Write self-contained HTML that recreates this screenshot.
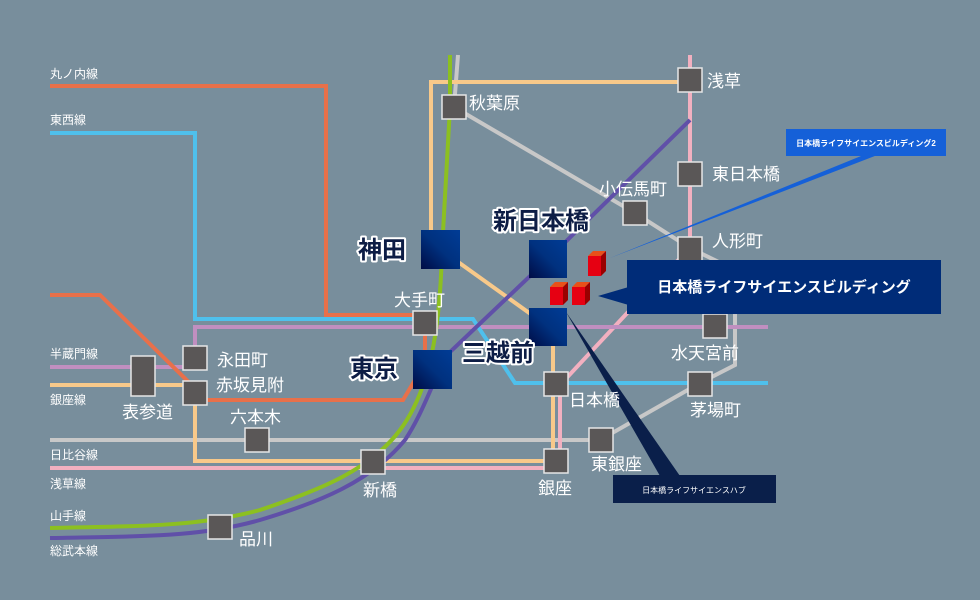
<!DOCTYPE html>
<html><head><meta charset="utf-8"><style>
html,body{margin:0;padding:0;background:#788e9c;}
svg{display:block;font-family:"Liberation Sans","Noto Sans CJK JP",sans-serif;}
.st{fill:#5a5757;stroke:#e6e6e6;stroke-width:1.5}
.lb{fill:#fff;font-size:17px}
.ln{fill:#fff;font-size:12px}
.big{fill:#0d1d45;font-size:24px;font-weight:bold;stroke:#fff;stroke-width:4;paint-order:stroke;stroke-linejoin:round}
</style></head><body>
<svg width="980" height="600" viewBox="0 0 980 600">
<defs>
<linearGradient id="bg" x1="1" y1="0" x2="0" y2="1"><stop offset="0" stop-color="#003c96"/><stop offset="0.5" stop-color="#00317f"/><stop offset="1" stop-color="#000c45"/></linearGradient>
</defs>
<rect width="980" height="600" fill="#788e9c"/>
<g fill="none" stroke-width="4" stroke-linejoin="miter">
<polyline stroke="#c8c8c8" points="50,440 600,440 700,383 735,365 735,270 690,248 635,213 454,107 458,55"/>
<polyline stroke="#f2b0c0" points="50,468 560,468 560,385 630,310 690,248 690,55"/>
<polyline stroke="#c08fc0" points="50,367 195,367 195,327 768,327"/>
<polyline stroke="#4fc0ec" points="50,133 195,133 195,319 473,319 515,383 768,383"/>
<polyline stroke="#e8704a" points="50,86 326,86 326,315 425,315 425,350"/>
<polyline stroke="#e8704a" points="50,295 100,295 207,400 403,400 415,380"/>
<polyline stroke="#f8c98a" points="50,385 195,385 195,461 553,461 553,330 440,249 431,249 431,82 690,82"/>
<path stroke="#8cc020" d="M50,528 C150,526 200,526 260,510 C320,490 370,470 400,430 C430,390 440,330 442,250 L450,107 L450,55"/>
<path stroke="#6050a8" d="M50,538 C150,536 200,537 260,520 C320,502 370,482 405,440 C425,410 432,380 450,352 L548,259 L690,120"/>
</g>
<polygon points="610,258 866,154 880,154" fill="#1560d8"/>
<polygon points="566,312 680,476 660,476" fill="#0a1f4a"/>
<polygon points="598,296 632,286 632,306" fill="#002c78"/>
<g class="st">
<rect x="442" y="95" width="24" height="24"/>
<rect x="678" y="68" width="24" height="24"/>
<rect x="678" y="162" width="24" height="24"/>
<rect x="623" y="201" width="24" height="24"/>
<rect x="678" y="237" width="24" height="24"/>
<rect x="413" y="311" width="24" height="24"/>
<rect x="183" y="346" width="24" height="24"/>
<rect x="183" y="381" width="24" height="24"/>
<rect x="131" y="356" width="24" height="40"/>
<rect x="245" y="428" width="24" height="24"/>
<rect x="361" y="450" width="24" height="24"/>
<rect x="208" y="515" width="24" height="24"/>
<rect x="544" y="372" width="24" height="24"/>
<rect x="544" y="449" width="24" height="24"/>
<rect x="589" y="428" width="24" height="24"/>
<rect x="688" y="372" width="24" height="24"/>
<rect x="703" y="314" width="24" height="24"/>
</g>
<g fill="url(#bg)">
<rect x="421" y="230" width="39" height="39"/>
<rect x="529" y="240" width="38" height="38"/>
<rect x="529" y="308" width="38" height="38"/>
<rect x="413" y="350" width="39" height="39"/>
</g>
<g>
<polygon points="588,256 601,256 606,251 593,251" fill="#e8501a"/><rect x="588" y="256" width="13" height="20" fill="#e60012"/><polygon points="601,256 606,251 606,271 601,276" fill="#9a0000"/>
<polygon points="550,287 563,287 568,282 555,282" fill="#e8501a"/><rect x="550" y="287" width="13" height="18" fill="#e60012"/><polygon points="563,287 568,282 568,300 563,305" fill="#9a0000"/>
<polygon points="572,287 585,287 590,282 577,282" fill="#e8501a"/><rect x="572" y="287" width="13" height="18" fill="#e60012"/><polygon points="585,287 590,282 590,300 585,305" fill="#9a0000"/>
</g>
<rect x="627" y="260" width="314" height="54" fill="#002c78"/>
<text x="784" y="292" fill="#fff" font-size="15" font-weight="bold" text-anchor="middle">日本橋ライフサイエンスビルディング</text>
<rect x="786" y="129" width="160" height="27" fill="#1560d8"/>
<text x="866" y="146" fill="#fff" font-size="8" font-weight="bold" text-anchor="middle">日本橋ライフサイエンスビルディング2</text>
<rect x="613" y="475" width="163" height="28" fill="#0a1f4a"/>
<text x="694" y="493" fill="#fff" font-size="8" text-anchor="middle">日本橋ライフサイエンスハブ</text>
<text class="ln" x="50" y="78">丸ノ内線</text>
<text class="ln" x="50" y="124">東西線</text>
<text class="ln" x="50" y="358">半蔵門線</text>
<text class="ln" x="50" y="404">銀座線</text>
<text class="ln" x="50" y="459">日比谷線</text>
<text class="ln" x="50" y="488">浅草線</text>
<text class="ln" x="50" y="520">山手線</text>
<text class="ln" x="50" y="555">総武本線</text>
<text class="lb" x="469" y="109">秋葉原</text>
<text class="lb" x="707" y="87">浅草</text>
<text class="lb" x="712" y="180">東日本橋</text>
<text class="lb" x="599" y="195">小伝馬町</text>
<text class="lb" x="712" y="247">人形町</text>
<text class="lb" x="394" y="306">大手町</text>
<text class="lb" x="217" y="366">永田町</text>
<text class="lb" x="216" y="391">赤坂見附</text>
<text class="lb" x="122" y="418">表参道</text>
<text class="lb" x="230" y="423">六本木</text>
<text class="lb" x="363" y="496">新橋</text>
<text class="lb" x="239" y="545">品川</text>
<text class="lb" x="569" y="406">日本橋</text>
<text class="lb" x="538" y="494">銀座</text>
<text class="lb" x="591" y="470">東銀座</text>
<text class="lb" x="690" y="416">茅場町</text>
<text class="lb" x="671" y="359">水天宮前</text>
<text class="big" x="358" y="258">神田</text>
<text class="big" x="493" y="229">新日本橋</text>
<text class="big" x="462" y="361">三越前</text>
<text class="big" x="350" y="377">東京</text>
</svg>
</body></html>
